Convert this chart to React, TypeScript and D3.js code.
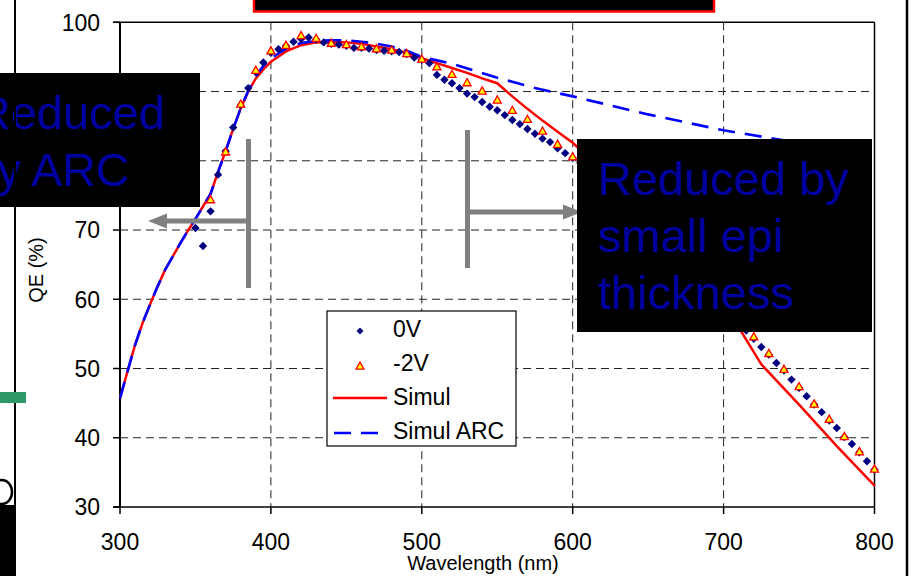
import React from "react";
import * as d3 from "d3";

// ---- data ----
const nm0V = [350,355,360,365,370,375,380,385,390,395,400,405,410,415,420,425,430,435,440,445,450,455,460,465,470,475,480,485,490,495,500,505,510,515,520,525,530,535,540,545,550,555,560,565,570,575,580,585,590,595,600,605,610,615,620,625,630,635,640,645,650,655,660,665,670,675,680,685,690,695,700,705,710,715,720,725,730,735,740,745,750,755,760,765,770,775,780,785,790,795,800];
const qe0V = [70.3,67.7,72.7,78.0,81.4,84.8,88.0,90.5,92.8,94.2,95.6,96.1,96.6,97.2,97.6,97.8,97.5,97.1,96.9,96.8,96.6,96.3,96.3,96.2,96.0,95.9,95.8,95.7,95.4,94.9,94.6,94.1,92.4,91.7,91.2,90.5,89.7,89.2,88.5,87.8,87.3,86.6,85.9,85.3,84.6,83.9,83.2,82.7,81.8,81.1,80.4,79.7,78.9,78.1,77.2,76.3,75.3,74.3,73.2,72.1,71.0,69.9,68.7,67.5,66.3,65.1,63.9,62.6,61.3,60.0,58.7,57.4,56.3,55.5,54.3,53.1,52.0,50.8,49.7,48.4,47.2,46.0,44.8,43.7,42.5,41.4,40.1,39.1,37.9,36.6,35.4];

const nm2V = [360,370,380,390,400,410,420,430,440,450,460,470,480,490,500,510,520,530,540,550,560,570,580,590,600,610,620,630,640,650,660,670,680,690,700,710,720,730,740,750,760,770,780,790,800];
const qe2V = [74.4,81.3,88.2,93.1,95.9,96.7,98.1,97.7,97.0,96.8,96.5,96.2,96.0,95.5,94.7,93.6,92.5,91.3,90.1,88.8,87.3,86.0,84.3,82.4,80.6,79.0,77.3,75.5,73.5,71.4,69.2,66.9,64.5,62.0,59.4,56.9,54.6,52.2,49.9,47.4,44.9,42.7,40.2,38.0,35.5];

const nmSim = [300,305,310,315,320,325,330,335,340,345,350,355,360,365,370,375,380,385,390,395,400,410,420,430,440,450,460,470,480,490,500,510,520,530,540,550,560,570,580,590,600,650,700,725,750,775,800];
const qeSim = [45.7,49.6,53.4,56.6,59.3,61.9,64.3,66.2,68.1,69.9,71.6,73.4,75.2,78.4,81.4,84.6,87.6,90.0,91.9,93.2,94.3,95.8,96.7,97.1,97.2,97.1,96.9,96.5,96.1,95.6,94.8,94.1,93.4,92.7,91.9,91.2,89.3,87.5,85.8,84.2,82.6,72.5,59.5,50.6,44.8,38.8,33.1];

const nmArc = [300,305,310,315,320,325,330,335,340,345,350,355,360,365,370,375,380,385,390,395,400,410,420,430,440,450,460,470,480,490,500,510,520,550,575,600,650,700,750,800];
const qeArc = [45.7,49.6,53.4,56.6,59.3,61.9,64.3,66.2,68.1,69.9,71.6,73.4,75.2,78.4,81.4,84.6,87.6,90.1,92.2,93.7,94.8,96.2,97.0,97.3,97.4,97.4,97.2,96.9,96.5,95.9,95.0,94.5,94.0,92.0,90.5,89.3,86.7,84.4,82.6,81.1];

const xTicks = [300, 400, 500, 600, 700, 800];
const yTicks = [30, 40, 50, 60, 70, 80, 90, 100];
const legendLabels = ["0V", "-2V", "Simul", "Simul ARC"];

const FONT = "'Liberation Sans', Arial, sans-serif";
const W = 911, H = 576;

export default function App() {
  const x = d3.scaleLinear().domain([300, 800]).range([120, 874.5]);
  const y = d3.scaleLinear().domain([30, 100]).range([507, 22.3]);
  const line = d3.line<[number, number]>().x(d => x(d[0])).y(d => y(d[1]));
  const sim = nmSim.map((n, i) => [n, qeSim[i]] as [number, number]);
  const arc = nmArc.map((n, i) => [n, qeArc[i]] as [number, number]);
  const diamond = "M0,-4.2L4.2,0L0,4.2L-4.2,0Z";
  const tri = "M0,-4L4,3.2L-4,3.2Z";
  const left = x(300), right = x(800), top = y(100), bottom = y(30);

  return (
    <svg width={W} height={H} style={{ position: "absolute", left: 0, top: 0, background: "#fff" }} fontFamily={FONT}>
      <rect x={0} y={0} width={W} height={H} fill="#fff" />
      {/* gridlines */}
      {yTicks.filter(t => t > 30 && t < 100).map(t => (
        <line key={"gy" + t} x1={left} x2={right} y1={y(t)} y2={y(t)} stroke="#222" strokeWidth={1} strokeDasharray="8,5" />
      ))}
      {xTicks.filter(t => t > 300 && t < 800).map(t => (
        <line key={"gx" + t} x1={x(t)} x2={x(t)} y1={top} y2={bottom} stroke="#222" strokeWidth={1} strokeDasharray="8,5" />
      ))}
      {/* frame */}
      <line x1={left - 7} x2={right} y1={top} y2={top} stroke="#000" strokeWidth={1.5} />
      <line x1={right} x2={right} y1={top} y2={bottom} stroke="#000" strokeWidth={1.5} />
      <line x1={left} x2={left} y1={top} y2={bottom} stroke="#000" strokeWidth={2} />
      <line x1={left - 7} x2={right} y1={bottom} y2={bottom} stroke="#000" strokeWidth={1.5} />
      {yTicks.map(t => (
        <g key={"yt" + t}>
          <line x1={left - 7} x2={left} y1={y(t)} y2={y(t)} stroke="#000" strokeWidth={1.5} />
          <text x={100} y={y(t)} dy="0.36em" textAnchor="end" fontSize={23} fill="#000">{t}</text>
        </g>
      ))}
      {xTicks.map(t => (
        <g key={"xt" + t}>
          <line x1={x(t)} x2={x(t)} y1={bottom} y2={bottom + 7} stroke="#000" strokeWidth={1.5} />
          <text x={x(t)} y={550} textAnchor="middle" fontSize={23} fill="#000">{t}</text>
        </g>
      ))}
      <text x={483} y={570} textAnchor="middle" fontSize={20} fill="#000">Wavelength (nm)</text>
      <text transform="translate(43,270) rotate(-90)" textAnchor="middle" fontSize={20} fill="#000">QE (%)</text>

      {/* simulation lines */}
      <path d={line(sim) || ""} fill="none" stroke="#ff0000" strokeWidth={2.5} />
      <path d={line(arc) || ""} fill="none" stroke="#0000ff" strokeWidth={2.6} strokeDasharray="17,10" />

      {/* markers */}
      {nm0V.map((n, i) => (
        <path key={"d" + i} d={diamond} transform={`translate(${x(n)},${y(qe0V[i])})`} fill="#000080" />
      ))}
      {nm2V.map((n, i) => (
        <path key={"t" + i} d={tri} transform={`translate(${x(n)},${y(qe2V[i])})`} fill="#ffff00" stroke="#ff0000" strokeWidth={1.3} />
      ))}

      {/* legend */}
      <rect x={327} y={311} width={189} height={135} fill="#fff" stroke="#000" strokeWidth={1.2} />
      <path d="M0,-3.5L3.5,0L0,3.5L-3.5,0Z" transform="translate(360,331)" fill="#000080" />
      <path d={tri} transform="translate(360,366)" fill="#ffff00" stroke="#ff0000" strokeWidth={1.3} />
      <line x1={333} x2={387} y1={398} y2={398} stroke="#ff0000" strokeWidth={2.5} />
      <line x1={334} x2={380} y1={433} y2={433} stroke="#0000ff" strokeWidth={2.6} strokeDasharray="17,10" />
      {legendLabels.map((l, i) => (
        <text key={l} x={393} y={337 + i * 34} fontSize={23} fill="#000">{l}</text>
      ))}

      {/* annotation arrows */}
      <rect x={246} y={139} width={5} height={149} fill="#808080" />
      <rect x={164} y={218.5} width={84} height={5} fill="#808080" />
      <path d="M148,221L167,213.5L167,228.5Z" fill="#808080" />
      <rect x={465} y={130} width={5} height={138} fill="#808080" />
      <rect x={467} y={209.5} width={97} height={5} fill="#808080" />
      <path d="M582,212L563,204.5L563,219.5Z" fill="#808080" />

      {/* annotation boxes */}
      <rect x={0} y={73} width={200} height={134} fill="#000" />
      <text x={-23} y={129} fontSize={47} fill="#0000a0">Reduced</text>
      <text x={-28} y={186} fontSize={46.5} fill="#0000a0">by ARC</text>
      <rect x={577} y={139} width={295} height={193} fill="#000" />
      <text x={598} y={195} fontSize={47} fill="#0000a0">Reduced by</text>
      <text x={598} y={252} fontSize={47} fill="#0000a0">small epi</text>
      <text x={598} y={309} fontSize={47} fill="#0000a0">thickness</text>

      {/* page artifacts */}
      <rect x={254} y={-5} width={460} height={16.5} fill="#000" stroke="#ff0000" strokeWidth={2.5} />
      <line x1={15} x2={15} y1={0} y2={H} stroke="#000" strokeWidth={2} />
      <line x1={907} x2={907} y1={0} y2={H} stroke="#000" strokeWidth={2.5} />
      <rect x={0} y={392} width={26} height={11} fill="#2e9a6a" />
      <rect x={0} y={505} width={15} height={71} fill="#000" />
      <ellipse cx={2} cy={492} rx={10} ry={12} fill="none" stroke="#000" strokeWidth={2.5} />
    </svg>
  );
}
